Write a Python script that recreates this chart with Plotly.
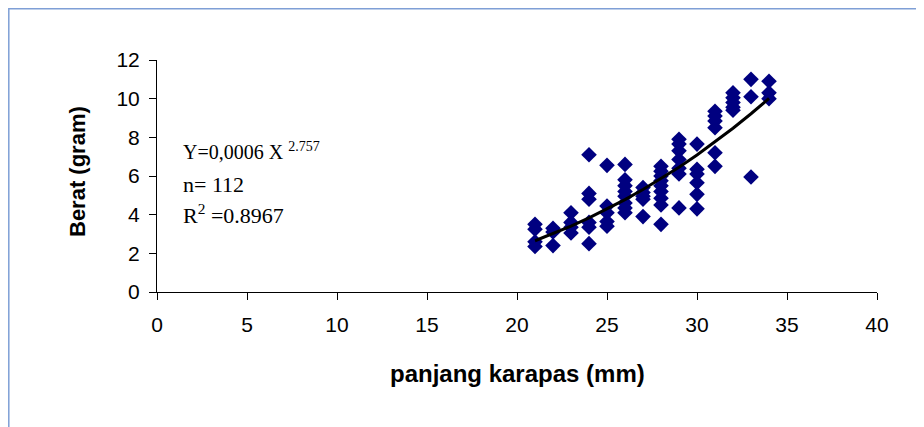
import plotly.graph_objects as go

# Data: carapace length (mm) vs weight (gram)
x_21 = [21, 21, 21, 21]
y_21 = [3.5, 3.25, 2.6, 2.35]
x_22 = [22, 22, 22]
y_22 = [3.3, 3.1, 2.4]
x_23 = [23, 23, 23, 23]
y_23 = [4.1, 3.6, 3.35, 3.05]
x_24 = [24, 24, 24, 24, 24, 24]
y_24 = [7.1, 5.1, 4.8, 3.6, 3.35, 2.5]
x_25 = [25, 25, 25, 25, 25]
y_25 = [6.55, 4.45, 4.1, 3.65, 3.4]
x_26 = [26, 26, 26, 26, 26, 26, 26, 26]
y_26 = [6.6, 5.8, 5.5, 5.2, 4.95, 4.6, 4.35, 4.1]
x_27 = [27, 27, 27, 27, 27]
y_27 = [5.4, 5.15, 4.95, 4.8, 3.9]
x_28 = [28, 28, 28, 28, 28, 28, 28, 28, 28]
y_28 = [6.5, 6.25, 6.0, 5.75, 5.5, 5.2, 4.85, 4.5, 3.5]
x_29 = [29, 29, 29, 29, 29, 29, 29]
y_29 = [7.9, 7.65, 7.3, 6.85, 6.4, 6.1, 4.35]
x_30 = [30, 30, 30, 30, 30, 30]
y_30 = [7.65, 6.35, 6.1, 5.65, 5.05, 4.3]
x_31 = [31, 31, 31, 31, 31, 31]
y_31 = [9.35, 9.1, 8.85, 8.5, 7.2, 6.5]
x_32 = [32, 32, 32, 32, 32]
y_32 = [10.3, 10.05, 9.8, 9.55, 9.4]
x_33 = [33, 33, 33]
y_33 = [11.0, 10.1, 5.95]
x_34 = [34, 34, 34]
y_34 = [10.9, 10.3, 10.0]

x_all = x_21 + x_22 + x_23 + x_24 + x_25 + x_26 + x_27 + x_28 + x_29 + x_30 + x_31 + x_32 + x_33 + x_34
y_all = y_21 + y_22 + y_23 + y_24 + y_25 + y_26 + y_27 + y_28 + y_29 + y_30 + y_31 + y_32 + y_33 + y_34

# Power trendline stated on the chart: Y = 0.0006 X^2.757
coef_a = 0.0006
coef_b = 2.757
trend_x = [21, 22, 23, 24, 25, 26, 27, 28, 29, 30, 31, 32, 33, 34]
trend_y = [coef_a * v ** coef_b for v in trend_x]

x_ticks = [0, 5, 10, 15, 20, 25, 30, 35, 40]
y_ticks = [0, 2, 4, 6, 8, 10, 12]

eq_text = "Y=0,0006 X <sup>2.757</sup>"
n_text = "n= 112"
r2_text = "R<sup>2</sup> =0.8967"
x_title = "panjang karapas (mm)"
y_title = "Berat (gram)"

# figure is placed 8px in from the page corner (body margin)
W, H = 916, 419
ML, MT, MR, MB = 149, 52, 47, 135
PW = W - ML - MR
PH = H - MT - MB

fig = go.Figure()
fig.add_trace(go.Scatter(
    x=x_all, y=y_all, mode="markers",
    marker=dict(symbol="diamond", size=12, color="#000080", line=dict(width=0)),
    showlegend=False, hoverinfo="x+y"))
fig.add_trace(go.Scatter(
    x=trend_x, y=trend_y, mode="lines",
    line=dict(color="black", width=3), showlegend=False, hoverinfo="skip"))

axis_font = dict(family="Liberation Sans, Arial", size=21, color="black")
fig.update_layout(
    width=W, height=H,
    margin=dict(l=ML, r=MR, t=MT, b=MB),
    paper_bgcolor="white", plot_bgcolor="white",
    xaxis=dict(range=[0, 40], tickvals=x_ticks, ticks="outside", ticklen=7,
               tickcolor="black", linecolor="black", linewidth=1, showline=True,
               showgrid=False, zeroline=False, tickfont=axis_font,
               ticklabelstandoff=7, fixedrange=True),
    yaxis=dict(range=[0, 12], tickvals=y_ticks, ticks="outside", ticklen=7,
               tickcolor="black", linecolor="black", linewidth=1, showline=True,
               showgrid=False, zeroline=False, tickfont=axis_font,
               ticklabelstandoff=5, fixedrange=True),
    font=dict(family="Liberation Sans, Arial", color="black"),
)

serif = dict(family="Liberation Serif, Times New Roman", size=22, color="black")
ann_x = (181 - 157) / 18
fig.add_annotation(x=ann_x, y=(292 - 152) / 19.25, xref="x", yref="y",
                   text=eq_text, showarrow=False, xanchor="left", yanchor="middle",
                   font=dict(family="Liberation Serif, Times New Roman", size=20, color="black"))
fig.add_annotation(x=ann_x, y=(292 - 185) / 19.25, xref="x", yref="y",
                   text=n_text, showarrow=False, xanchor="left", yanchor="middle", font=serif)
fig.add_annotation(x=ann_x, y=(292 - 214) / 19.25, xref="x", yref="y",
                   text=r2_text, showarrow=False, xanchor="left", yanchor="middle", font=serif)

fig.add_annotation(x=0.5, y=(292 - 373) / 232, xref="paper", yref="paper",
                   text="<b>" + x_title + "</b>", showarrow=False,
                   xanchor="center", yanchor="middle",
                   font=dict(family="Liberation Sans, Arial", size=24, color="black"))
fig.add_annotation(x=(77 - 157) / 720, y=(292 - 172) / 232, xref="paper", yref="paper",
                   text="<b>" + y_title + "</b>", showarrow=False, textangle=-90,
                   xanchor="center", yanchor="middle",
                   font=dict(family="Liberation Sans, Arial", size=22, color="black"))

# outer chart-area frame (extends beyond the right and bottom edges)
fig.add_shape(type="rect", xref="paper", yref="paper",
              x0=(0.8 - ML) / PW, x1=1.3, y0=-1.2, y1=(PH + MT - 0.8) / PH,
              line=dict(color="#7f9fd6", width=1.5), fillcolor="rgba(0,0,0,0)", layer="below")

fig.write_html("out.html")
